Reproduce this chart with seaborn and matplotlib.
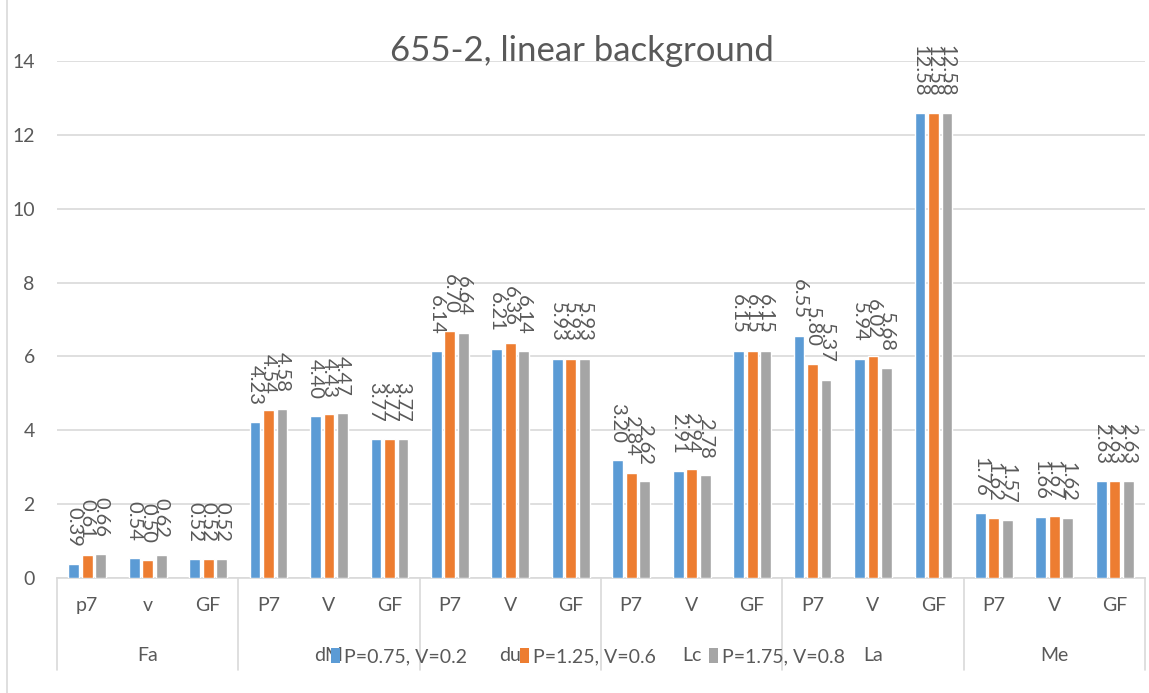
import matplotlib
matplotlib.use("Agg")
import matplotlib.pyplot as plt
import seaborn as sns
import pandas as pd
from matplotlib.patches import Patch
from matplotlib.lines import Line2D

# Groups and the three measurements inside each group
groups = ["Fa", "dM", "du", "Lc", "La", "Me"]
sub_labels = [
    ["p7", "v", "GF"],
    ["P7", "V", "GF"],
    ["P7", "V", "GF"],
    ["P7", "V", "GF"],
    ["P7", "V", "GF"],
    ["P7", "V", "GF"],
]
series_names = ["P=0.75, V=0.2", "P=1.25, V=0.6", "P=1.75, V=0.8"]

vals_p075 = [0.39, 0.54, 0.52, 4.23, 4.40, 3.77, 6.14, 6.21, 5.93,
             3.20, 2.91, 6.15, 6.55, 5.94, 12.58, 1.76, 1.66, 2.63]
vals_p125 = [0.61, 0.50, 0.52, 4.54, 4.43, 3.77, 6.70, 6.36, 5.93,
             2.84, 2.94, 6.15, 5.80, 6.02, 12.58, 1.62, 1.67, 2.63]
vals_p175 = [0.66, 0.62, 0.52, 4.58, 4.47, 3.77, 6.64, 6.14, 5.93,
             2.62, 2.78, 6.15, 5.37, 5.68, 12.58, 1.57, 1.62, 2.63]

colors = ["#5B9BD5", "#ED7D31", "#A5A5A5"]

# Long-form table for seaborn
keys = [f"{g}|{s}" for g, subs in zip(groups, sub_labels) for s in subs]
rows = []
for name, vals in zip(series_names, [vals_p075, vals_p125, vals_p175]):
    for k, v in zip(keys, vals):
        rows.append({"key": k, "series": name, "value": v})
df = pd.DataFrame(rows)

sns.set_style("white")
plt.rcParams["font.family"] = ["Lato", "DejaVu Sans"]
text_color = "#595959"

fig = plt.figure(figsize=(11.49, 6.93), dpi=100)
ax = fig.add_axes([57 / 1149, 1 - 578 / 693, (1145 - 57) / 1149, (578 - 61) / 693])

sns.barplot(data=df, x="key", y="value", hue="series", order=keys,
            hue_order=series_names, palette=dict(zip(series_names, colors)),
            width=0.67, gap=0.2, saturation=1, legend=False, ax=ax, zorder=3)

ax.set_ylim(0, 14)
ax.set_xlim(-0.5, len(keys) - 0.5)
ax.set_yticks(range(0, 15, 2))
ax.yaxis.grid(True, color="#D9D9D9", linewidth=1.2, zorder=0)
ax.set_axisbelow(True)
ax.tick_params(axis="y", length=0, pad=16, labelsize=14, labelcolor=text_color)
ax.tick_params(axis="x", length=0, pad=14, labelsize=14, labelcolor=text_color)
ax.set_xticks(range(len(keys)))
ax.set_xticklabels([s for subs in sub_labels for s in subs])
ax.set_xlabel("")
ax.set_ylabel("")
for side in ["top", "right", "left"]:
    ax.spines[side].set_visible(False)
ax.spines["bottom"].set_color("#D9D9D9")
ax.spines["bottom"].set_linewidth(1.2)

# Rotated value labels above each bar
for cont in ax.containers:
    ax.bar_label(cont, fmt="%.2f", rotation=-90, padding=12, fontsize=14.5,
                 color=text_color, clip_on=False)

# Group separators and group names below the axis
trans = ax.get_xaxis_transform()
for i in range(len(groups) + 1):
    x = i * 3 - 0.5
    ax.add_line(Line2D([x, x], [0, -0.178], transform=trans, color="#D9D9D9",
                       linewidth=1.2, clip_on=False))
for i, g in enumerate(groups):
    ax.text(i * 3 + 1, -0.149, g, transform=trans, ha="center", va="center",
            fontsize=14, color=text_color)

# Title
fig.text(582 / 1149, 1 - 51 / 693, "655-2, linear background", ha="center",
         va="center", fontsize=25, color=text_color)

# Legend
handles = [Patch(facecolor=c, edgecolor="none") for c in colors]
fig.legend(handles, series_names, loc="center", ncol=3,
           bbox_to_anchor=(588 / 1149, 1 - 657 / 693), frameon=False,
           fontsize=14, labelcolor=text_color, handlelength=0.5,
           handleheight=0.8, handletextpad=0.2, columnspacing=2.7)

# Chart border on the left edge
fig.add_artist(Line2D([7 / 1149, 7 / 1149], [0, 1], transform=fig.transFigure,
                      color="#D9D9D9", linewidth=1.2))

fig.savefig("out.png", dpi=100)
